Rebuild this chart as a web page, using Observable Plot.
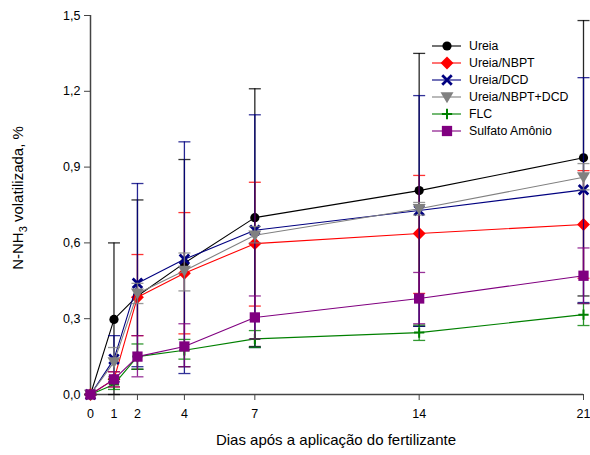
<!DOCTYPE html>
<html>
<head>
<meta charset="utf-8">
<script src="https://cdn.jsdelivr.net/npm/d3@7"></script>
<script src="https://cdn.jsdelivr.net/npm/@observablehq/plot@0.6"></script>
<style>
  body { margin: 0; background: #fff; font-family: "Liberation Sans", Arial, sans-serif; }
  #wrap { position: relative; width: 590px; height: 455px; }
  #legend { position: absolute; left: 431px; top: 37px; font-size: 12.3px; color: #000; }
  #legend .row { display: flex; align-items: center; height: 17.1px; }
  #legend svg { margin-right: 7px; }
</style>
</head>
<body>
<div id="wrap"><div id="legend"></div></div>
<script>
const days = [0, 1, 2, 4, 7, 14, 21];
const names = ["Ureia", "Ureia/NBPT", "Ureia/DCD", "Ureia/NBPT+DCD", "FLC", "Sulfato Amônio"];
const colors = ["#000000", "#ff0000", "#000080", "#808080", "#008000", "#800080"];

const ureia      = [0, 0.297, 0.39, 0.52, 0.70, 0.807, 0.937];
const ureiaLo    = [0, 0.00, 0.10, 0.11, 0.19, 0.27, 0.39];
const ureiaHi    = [0, 0.60, 0.77, 0.93, 1.21, 1.35, 1.48];

const nbpt       = [0, 0.06, 0.385, 0.48, 0.597, 0.637, 0.673];
const nbptLo     = [0, 0.03, 0.233, 0.24, 0.35, 0.40, 0.46];
const nbptHi     = [0, 0.09, 0.554, 0.72, 0.84, 0.867, 0.886];

const dcd        = [0, 0.14, 0.44, 0.535, 0.65, 0.728, 0.81];
const dcdLo      = [0, 0.05, 0.11, 0.083, 0.186, 0.27, 0.364];
const dcdHi      = [0, 0.233, 0.835, 1.0, 1.107, 1.183, 1.254];

const nbptDcd    = [0, 0.128, 0.40, 0.49, 0.63, 0.735, 0.86];
const nbptDcdLo  = [0, 0.07, 0.36, 0.41, 0.60, 0.71, 0.81];
const nbptDcdHi  = [0, 0.186, 0.44, 0.56, 0.665, 0.76, 0.914];

const flc        = [0, 0.04, 0.15, 0.175, 0.22, 0.245, 0.316];
const flcLo      = [0, 0.02, 0.10, 0.14, 0.186, 0.214, 0.273];
const flcHi      = [0, 0.06, 0.20, 0.218, 0.253, 0.275, 0.36];

const sulfato    = [0, 0.06, 0.15, 0.19, 0.305, 0.38, 0.47];
const sulfatoLo  = [0, 0.03, 0.07, 0.11, 0.22, 0.28, 0.36];
const sulfatoHi  = [0, 0.09, 0.233, 0.28, 0.39, 0.483, 0.58];

const yTicks = [0, 0.3, 0.6, 0.9, 1.2, 1.5];
const xTitle = "Dias após a aplicação do fertilizante";

const seriesVals = [
  [ureia, ureiaLo, ureiaHi],
  [nbpt, nbptLo, nbptHi],
  [dcd, dcdLo, dcdHi],
  [nbptDcd, nbptDcdLo, nbptDcdHi],
  [flc, flcLo, flcHi],
  [sulfato, sulfatoLo, sulfatoHi]
];

const capSymbol = {
  draw(context, size) {
    const w = Math.sqrt(size / Math.PI);
    context.moveTo(-w, 0);
    context.lineTo(w, 0);
  }
};
const triDown = {
  draw(context, size) {
    const s = Math.sqrt(size / Math.PI) * 1.25;
    context.moveTo(-s, -s * 0.75);
    context.lineTo(s, -s * 0.75);
    context.lineTo(0, s * 0.95);
    context.closePath();
  }
};

const markerStyle = [
  {symbol: "circle", r: 4.6, fill: colors[0]},
  {symbol: "diamond2", r: 5.8, fill: colors[1]},
  {symbol: "times", r: 4.4, stroke: colors[2], strokeWidth: 2.8},
  {symbol: triDown, r: 5.2, fill: colors[3]},
  {symbol: "plus", r: 3.4, stroke: colors[4], strokeWidth: 2},
  {symbol: "square", r: 5.8, fill: colors[5]}
];

const marks = [];
seriesVals.forEach(([m, lo, hi], i) => {
  const data = days.map((d, j) => ({day: d, v: m[j], lo: lo[j], hi: hi[j]}));
  const col = colors[i];
  marks.push(Plot.ruleX(data, {x: "day", y1: "lo", y2: "hi", stroke: col, strokeWidth: 1.3, strokeOpacity: 0.85}));
  marks.push(Plot.dot(data, {x: "day", y: "lo", symbol: capSymbol, r: 6, stroke: col, strokeWidth: 1.3, strokeOpacity: 0.8}));
  marks.push(Plot.dot(data, {x: "day", y: "hi", symbol: capSymbol, r: 6, stroke: col, strokeWidth: 1.3, strokeOpacity: 0.8}));
  marks.push(Plot.line(data, {x: "day", y: "v", stroke: col, strokeWidth: 1.1}));
  marks.push(Plot.dot(data, {x: "day", y: "v", ...markerStyle[i]}));
});

const chart = Plot.plot({
  width: 590,
  height: 455,
  marginLeft: 90,
  marginRight: 7,
  marginTop: 15,
  marginBottom: 61,
  style: {fontFamily: "Liberation Sans, Arial, sans-serif", fontSize: "12.5px", background: "#fff", color: "#000"},
  x: {domain: [0, 21]},
  y: {domain: [0, 1.5]},
  marks: [
    Plot.ruleY([0], {stroke: "#444", strokeWidth: 1.5}),
    Plot.ruleX([0], {stroke: "#444", strokeWidth: 1.5}),
    Plot.axisX({ticks: days, tickFormat: d => String(d), tickSize: 6, tickPadding: 9, stroke: "#444", label: null, fontSize: 12.5}),
    Plot.axisY({ticks: yTicks, tickFormat: d => d.toFixed(1).replace(".", ","), tickSize: 6, tickPadding: 4, stroke: "#444", label: null, fontSize: 12.5}),
    ...marks
  ]
});

document.getElementById("wrap").prepend(chart);

const svg = d3.select(chart.tagName.toLowerCase() === "svg" ? chart : chart.querySelector("svg"));

// x-axis title
svg.append("text")
  .attr("x", 336).attr("y", 445)
  .attr("text-anchor", "middle")
  .attr("font-size", 15)
  .attr("fill", "#000")
  .text(xTitle);

// y-axis title with subscript
const t = svg.append("text")
  .attr("transform", "translate(23,198) rotate(-90)")
  .attr("text-anchor", "middle")
  .attr("font-size", 15)
  .attr("fill", "#000");
t.append("tspan").text("N-NH");
t.append("tspan").attr("font-size", 11).attr("dy", 4).text("3");
t.append("tspan").attr("dy", -4).text(" volatilizada, %");

// legend
const legend = d3.select("#legend");
const symMap = {circle: d3.symbolCircle, diamond2: d3.symbolDiamond2, times: d3.symbolTimes, plus: d3.symbolPlus, square: d3.symbolSquare};
names.forEach((name, i) => {
  const row = legend.append("div").attr("class", "row");
  const s = row.append("svg").attr("width", 31).attr("height", 14);
  s.append("line").attr("x1", 1).attr("x2", 30).attr("y1", 7).attr("y2", 7).attr("stroke", colors[i]).attr("stroke-width", 1.1);
  const ms = markerStyle[i];
  const type = typeof ms.symbol === "string" ? symMap[ms.symbol] : ms.symbol;
  const p = s.append("path")
    .attr("transform", "translate(16,7)")
    .attr("d", d3.symbol(type, ms.r * ms.r * Math.PI)());
  if (ms.fill) p.attr("fill", ms.fill); else p.attr("fill", "none");
  if (ms.stroke) p.attr("stroke", ms.stroke).attr("stroke-width", ms.strokeWidth);
  row.append("span").text(name);
});
</script>
</body>
</html>
